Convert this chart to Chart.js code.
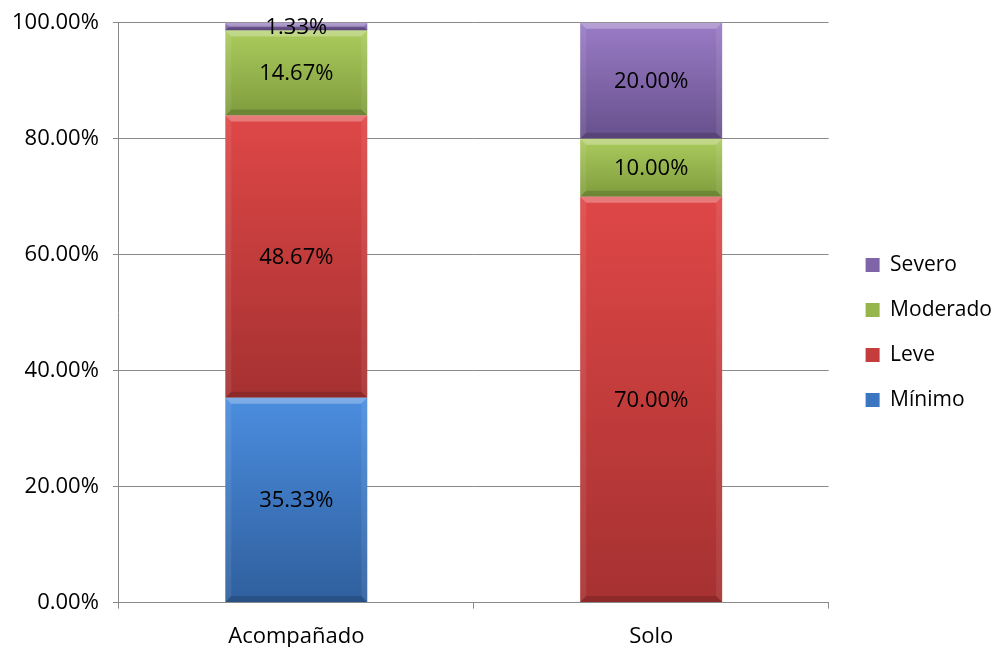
<!DOCTYPE html>
<html>
<head>
<meta charset="utf-8">
<script src="https://cdn.jsdelivr.net/npm/chart.js@4.4.1/dist/chart.umd.min.js"></script>
<style>
  html, body { margin: 0; padding: 0; background: #fff; }
  #wrap { width: 996px; height: 647px; }
</style>
</head>
<body>
<div id="wrap"><canvas id="myChart"></canvas></div>
<script>
// ------------- data ----------------
const categories = ["Acompañado", "Solo"];
const minimo = [35.33, 0];
const leve = [48.67, 70];
const moderado = [14.67, 10];
const severo = [1.33, 20];
const yTicks = [0, 20, 40, 60, 80, 100];

const seriesNames = ["Mínimo", "Leve", "Moderado", "Severo"];
const seriesValues = [minimo, leve, moderado, severo];

// top / bottom shades of each series, plus a flat one for the legend swatch
const shades = [
  { top: "#4b8ddf", bottom: "#2f5f9d", flat: "#3c75c2" },
  { top: "#df4747", bottom: "#a63131", flat: "#c43c3c" },
  { top: "#abcb5d", bottom: "#7f9c3d", flat: "#96b54b" },
  { top: "#9a7cc6", bottom: "#67508c", flat: "#8064a8" },
];

const FONT = "'Open Sans', 'Liberation Sans', sans-serif";
const FS = 22;

// vertical gradient for one stacked segment
function segmentFill(ctx) {
  const chart = ctx.chart;
  const sh = shades[ctx.datasetIndex];
  const yScale = chart.scales.y;
  if (!chart.chartArea || !yScale) return sh.flat;
  let start = 0;
  for (let d = 0; d < ctx.datasetIndex; d++) start += seriesValues[d][ctx.dataIndex];
  const end = start + seriesValues[ctx.datasetIndex][ctx.dataIndex];
  const yTop = yScale.getPixelForValue(end);
  const yBot = yScale.getPixelForValue(start);
  if (!isFinite(yTop) || !isFinite(yBot) || yTop === yBot) return sh.flat;
  const g = chart.ctx.createLinearGradient(0, yTop, 0, yBot);
  g.addColorStop(0, sh.top);
  g.addColorStop(1, sh.bottom);
  return g;
}

// push the legend a bit away from the plot
const legendShift = {
  id: "legendShift",
  afterLayout(chart) {
    const lg = chart.legend;
    if (!lg) return;
    lg.left += 13;
    lg.right += 13;
    lg.top -= 2;
    lg.bottom -= 2;
  },
};

// small bevel on each segment, then the value text in the middle
const bevelAndLabels = {
  id: "bevelAndLabels",
  afterDatasetsDraw(chart) {
    const c = chart.ctx;
    chart.data.datasets.forEach((ds, di) => {
      const meta = chart.getDatasetMeta(di);
      meta.data.forEach((el, i) => {
        const v = ds.data[i];
        if (!v) return;
        const { x, y, base, width } = el.getProps(["x", "y", "base", "width"], true);
        const left = x - width / 2, right = x + width / 2;
        const h = base - y;
        const b = Math.min(6, h / 2);
        c.save();
        // lighter top edge
        c.fillStyle = "rgba(255,255,255,0.28)";
        c.beginPath();
        c.moveTo(left, y);
        c.lineTo(right, y);
        c.lineTo(right - b, y + b);
        c.lineTo(left + b, y + b);
        c.closePath();
        c.fill();
        // lighter sides
        c.fillStyle = "rgba(255,255,255,0.08)";
        c.beginPath();
        c.moveTo(left, y);
        c.lineTo(left + b, y + b);
        c.lineTo(left + b, base - b);
        c.lineTo(left, base);
        c.closePath();
        c.fill();
        c.beginPath();
        c.moveTo(right, y);
        c.lineTo(right - b, y + b);
        c.lineTo(right - b, base - b);
        c.lineTo(right, base);
        c.closePath();
        c.fill();
        // darker bottom edge
        c.fillStyle = "rgba(0,0,0,0.15)";
        c.beginPath();
        c.moveTo(left, base);
        c.lineTo(right, base);
        c.lineTo(right - b, base - b);
        c.lineTo(left + b, base - b);
        c.closePath();
        c.fill();
        c.restore();
      });
    });
    // value labels
    c.save();
    c.font = FS + "px " + FONT;
    c.fillStyle = "#000";
    c.textAlign = "center";
    c.textBaseline = "middle";
    chart.data.datasets.forEach((ds, di) => {
      const meta = chart.getDatasetMeta(di);
      meta.data.forEach((el, i) => {
        const v = ds.data[i];
        if (!v) return;
        const { x, y, base } = el.getProps(["x", "y", "base"], true);
        c.fillText(v.toFixed(2) + "%", x, (y + base) / 2 + 1);
      });
    });
    c.restore();
  },
};

document.addEventListener("DOMContentLoaded", () => {
  const ctx = document.getElementById("myChart");
  new Chart(ctx, {
    type: "bar",
    data: {
      labels: categories,
      datasets: seriesNames.map((name, i) => ({
        label: name,
        data: seriesValues[i],
        backgroundColor: segmentFill,
        borderWidth: 0,
        barPercentage: 0.4,
        categoryPercentage: 1,
      })),
    },
    options: {
      responsive: true,
      maintainAspectRatio: false,
      animation: false,
      layout: { padding: { left: -2, right: 7, top: 4, bottom: -18 } },
      plugins: {
        tooltip: { enabled: false },
        legend: {
          position: "right",
          reverse: true,
          labels: {
            font: { family: FONT, size: 21 },
            color: "#000",
            boxWidth: 14,
            boxHeight: 14,
            padding: 24,
            generateLabels(chart) {
              return chart.data.datasets.map((ds, i) => ({
                text: ds.label,
                fillStyle: shades[i].flat,
                strokeStyle: shades[i].flat,
                lineWidth: 0,
                datasetIndex: i,
                hidden: false,
              }));
            },
          },
        },
      },
      scales: {
        x: {
          stacked: true,
          grid: {
            display: true,
            drawOnChartArea: false,
            drawTicks: true,
            tickLength: 6,
            color: "#8a8a8a",
          },
          border: { color: "#8a8a8a" },
          ticks: { font: { family: FONT, size: FS }, color: "#000", padding: 15 },
        },
        y: {
          stacked: true,
          min: 0,
          max: 100,
          afterBuildTicks(axis) {
            axis.ticks = yTicks.map((v) => ({ value: v }));
          },
          grid: { color: "#8a8a8a", tickLength: 6 },
          border: { color: "#8a8a8a" },
          ticks: {
            font: { family: FONT, size: FS, lineHeight: 0.8 },
            color: "#000",
            padding: 14,
            callback: (v) => Number(v).toFixed(2) + "%",
          },
        },
      },
    },
    plugins: [legendShift, bevelAndLabels],
  });
});
</script>
</body>
</html>
